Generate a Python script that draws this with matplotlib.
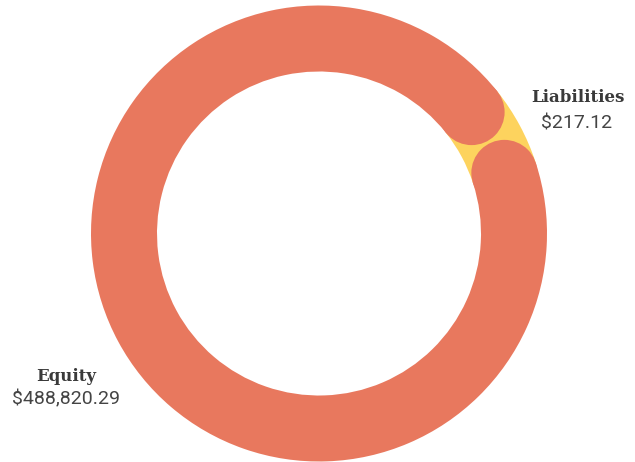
import numpy as np
import matplotlib.pyplot as plt
from matplotlib.patches import Circle

labels = ["Liabilities", "Equity"]
values = [217.12, 488820.29]
value_text = ["$217.12", "$488,820.29"]
colors = ["#FDD35E", "#E8785E"]

# tiny slices get a minimum visible share, like the original widget
min_share = 0.06
shares = np.array(values) / sum(values)
shown = np.maximum(shares, min_share)
shown = shown / shown.sum()

fig = plt.figure(figsize=(6.35, 4.62), dpi=100)
ax = fig.add_axes([0, 0, 1, 1])

R = 228
W = 66
wedges, _ = ax.pie(shown, colors=colors, radius=R, startangle=38.5,
                   counterclock=False,
                   wedgeprops=dict(width=W, linewidth=0))

# rounded ends on the big slice
mid = R - W / 2
eq = wedges[1]
for ang in (eq.theta1, eq.theta2):
    a = np.deg2rad(ang)
    ax.add_patch(Circle((mid * np.cos(a), mid * np.sin(a)), W / 2,
                        color=colors[1], linewidth=0, zorder=3))

ax.set_xlim(-319, 316)
ax.set_ylim(-228.5, 233.5)
ax.set_aspect("equal")
ax.axis("off")

txt = "#3a3a3a"
ax.text(259, 131.5, labels[0], ha="center", va="baseline",
        family="DejaVu Serif", fontweight="bold", fontsize=12, color=txt)
ax.text(258, 105.5, value_text[0], ha="center", va="baseline",
        family="Roboto", fontweight="normal", fontsize=14, color="#444444")
ax.text(-253, -147.5, labels[1], ha="center", va="baseline",
        family="DejaVu Serif", fontweight="bold", fontsize=12, color=txt)
ax.text(-253, -170.5, value_text[1], ha="center", va="baseline",
        family="Roboto", fontweight="normal", fontsize=14, color="#444444")

fig.savefig("out.png", dpi=100)
